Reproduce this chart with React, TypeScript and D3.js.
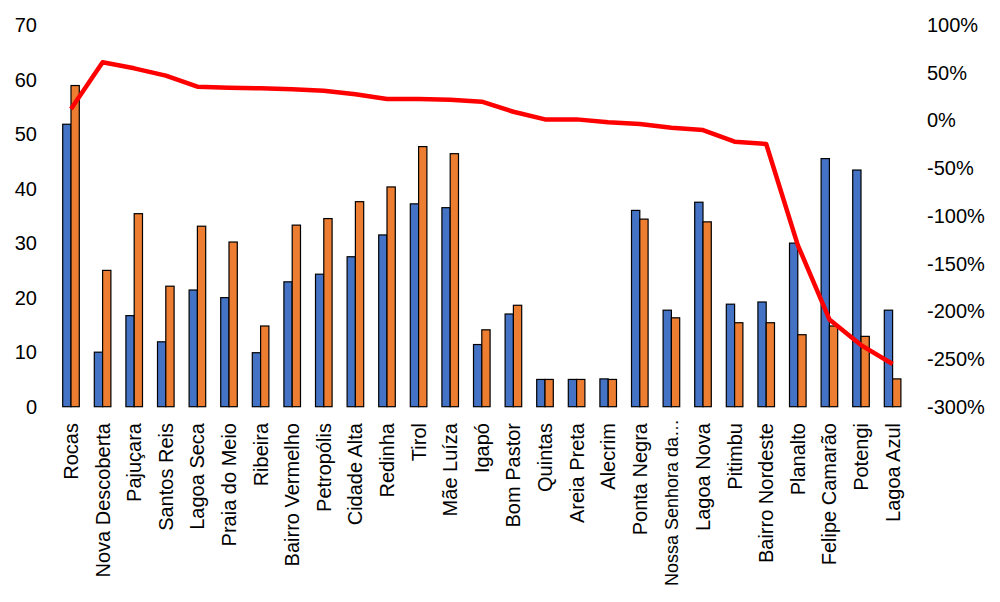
import { useEffect, useRef } from "react"
import * as d3 from "d3"

const categories = [
  "Rocas", "Nova Descoberta", "Pajuçara", "Santos Reis", "Lagoa Seca", "Praia do Meio",
  "Ribeira", "Bairro Vermelho", "Petropólis", "Cidade Alta", "Redinha", "Tirol",
  "Mãe Luíza", "Igapó", "Bom Pastor", "Quintas", "Areia Preta", "Alecrim",
  "Ponta Negra", "Nossa Senhora da…", "Lagoa Nova", "Pitimbu", "Bairro Nordeste",
  "Planalto", "Felipe Camarão", "Potengi", "Lagoa Azul",
]

const seriesA = [
  51.8, 10.0, 16.7, 11.9, 21.4, 20.0, 9.9, 22.9, 24.3, 27.5, 31.5, 37.2, 36.5, 11.4,
  17.0, 5.0, 5.0, 5.1, 36.0, 17.7, 37.5, 18.8, 19.2, 30.0, 45.5, 43.4, 17.7,
]

const seriesB = [
  58.9, 25.0, 35.4, 22.1, 33.1, 30.2, 14.8, 33.3, 34.5, 37.6, 40.3, 47.7, 46.4, 14.1,
  18.6, 5.0, 5.0, 5.0, 34.4, 16.3, 33.9, 15.4, 15.4, 13.2, 14.8, 12.9, 5.1,
]

// percentage change, right axis
const change = [
  12, 61, 54.6, 47, 35.3, 34.3, 33.6, 32.6, 31.1, 27.4, 22.4, 22.4, 21.7, 19.6,
  9.1, 1.1, 1.1, -2.0, -3.8, -7.6, -10.1, -22.3, -24.7, -130.6, -208.5, -235.4, -255.3,
]

const leftTicks = [0, 10, 20, 30, 40, 50, 60, 70]
const rightTicks = [100, 50, 0, -50, -100, -150, -200, -250, -300]

export default function App() {
  const svgRef = useRef<SVGSVGElement>(null)

  useEffect(() => {
    if (!svgRef.current) return

    const width = 1000
    const height = 602
    const top = 25
    const bottom = 406.7
    const font = "'Liberation Sans', Arial, sans-serif"

    const svg = d3.select(svgRef.current).attr("width", width).attr("height", height)
    svg.selectAll("*").remove()

    svg.append("rect").attr("width", width).attr("height", height).attr("fill", "#fff")

    const x0 = d3
      .scaleBand()
      .domain(categories)
      .range([55.2, 908.4])
      .paddingInner(0.475)
      .paddingOuter(0.2375)

    const x1 = d3.scaleBand().domain(["a", "b"]).range([0, x0.bandwidth()])

    const yLeft = d3.scaleLinear().domain([0, 70]).range([bottom, top])
    const yRight = d3.scaleLinear().domain([-300, 100]).range([bottom, top])

    const groups = svg
      .append("g")
      .selectAll("g")
      .data(categories)
      .enter()
      .append("g")
      .attr("transform", (d) => `translate(${x0(d)},0)`)

    groups
      .append("rect")
      .attr("x", x1("a")!)
      .attr("y", (_, i) => yLeft(seriesA[i]))
      .attr("width", x1.bandwidth())
      .attr("height", (_, i) => bottom - yLeft(seriesA[i]))
      .attr("fill", "#4472C4")
      .attr("stroke", "#000")
      .attr("stroke-width", 1.2)

    groups
      .append("rect")
      .attr("x", x1("b")!)
      .attr("y", (_, i) => yLeft(seriesB[i]))
      .attr("width", x1.bandwidth())
      .attr("height", (_, i) => bottom - yLeft(seriesB[i]))
      .attr("fill", "#ED7D31")
      .attr("stroke", "#000")
      .attr("stroke-width", 1.2)

    const line = d3
      .line<number>()
      .x((_, i) => x0(categories[i])! + x0.bandwidth() / 2)
      .y((d) => yRight(d))

    svg
      .append("path")
      .datum(change)
      .attr("d", line)
      .attr("fill", "none")
      .attr("stroke", "#FF0000")
      .attr("stroke-width", 4.5)
      .attr("stroke-linejoin", "round")

    // left axis labels
    svg
      .append("g")
      .selectAll("text")
      .data(leftTicks)
      .enter()
      .append("text")
      .attr("x", 37)
      .attr("y", (d) => yLeft(d))
      .attr("dy", "0.35em")
      .attr("text-anchor", "end")
      .attr("font-family", font)
      .attr("font-size", 20)
      .attr("fill", "#000")
      .text((d) => d)

    // right axis labels
    svg
      .append("g")
      .selectAll("text")
      .data(rightTicks)
      .enter()
      .append("text")
      .attr("x", 927)
      .attr("y", (d) => yRight(d))
      .attr("dy", "0.35em")
      .attr("text-anchor", "start")
      .attr("font-family", font)
      .attr("font-size", 20)
      .attr("fill", "#000")
      .text((d) => `${d}%`)

    // category labels (the truncated one is set a bit smaller so it fits)
    const isLong = (d: string) => d.endsWith("…")
    svg
      .append("g")
      .selectAll("text")
      .data(categories)
      .enter()
      .append("text")
      .attr(
        "transform",
        (d) => `translate(${x0(d)! + x0.bandwidth() / 2},${isLong(d) ? 419 : 423}) rotate(-90)`
      )
      .attr("dy", "0.35em")
      .attr("text-anchor", "end")
      .attr("font-family", font)
      .attr("font-size", (d) => (isLong(d) ? 18 : 20))
      .attr("fill", "#000")
      .text((d) => d)
  }, [])

  return <svg ref={svgRef} style={{ position: "absolute", left: 0, top: 0 }} />
}
